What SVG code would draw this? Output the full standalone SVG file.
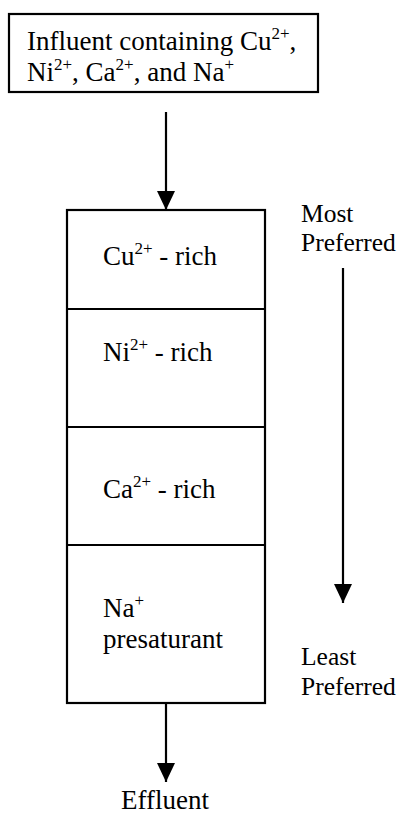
<svg xmlns="http://www.w3.org/2000/svg" width="399" height="816" viewBox="0 0 399 816">
<style>
  text { font-family: "Liberation Serif", "Times New Roman", serif; font-size: 27px; fill: #000; }
  .side { font-size: 25.5px; }
  .sup { font-size: 17px; }
  .box { fill: #fff; stroke: #000; stroke-width: 2.2; }
  .line { stroke: #000; stroke-width: 2.2; fill: none; }
</style>
<defs>
  <marker id="arr" viewBox="0 0 19 18" refX="19" refY="9" markerWidth="19" markerHeight="18" markerUnits="userSpaceOnUse" orient="auto">
    <path d="M0,0 L19,9 L0,18 Z" fill="#000"/>
  </marker>
</defs>
<rect width="399" height="816" fill="#fff"/>
<g id="influent">
  <rect class="box" x="9" y="14" width="309" height="78"/>
  <text x="27" y="50">Influent containing Cu<tspan class="sup" dy="-11">2+</tspan><tspan dy="11">,</tspan></text>
  <text x="27" y="81">Ni<tspan class="sup" dy="-11">2+</tspan><tspan dy="11">, Ca</tspan><tspan class="sup" dy="-11">2+</tspan><tspan dy="11">, and Na</tspan><tspan class="sup" dy="-11">+</tspan></text>
</g>
<g id="column">
  <rect class="box" x="67" y="210" width="198" height="493"/>
</g>
<g id="cu-zone">
  <line class="line" x1="67" y1="309" x2="265" y2="309"/>
  <text x="103" y="265">Cu<tspan class="sup" dy="-11">2+</tspan><tspan dy="11"> - rich</tspan></text>
</g>
<g id="ni-zone">
  <line class="line" x1="67" y1="427" x2="265" y2="427"/>
  <text x="103" y="361">Ni<tspan class="sup" dy="-11">2+</tspan><tspan dy="11"> - rich</tspan></text>
</g>
<g id="ca-zone">
  <line class="line" x1="67" y1="545" x2="265" y2="545"/>
  <text x="103" y="498">Ca<tspan class="sup" dy="-11">2+</tspan><tspan dy="11"> - rich</tspan></text>
</g>
<g id="na-zone">
  <text x="103" y="617">Na<tspan class="sup" dy="-11">+</tspan></text>
  <text x="103" y="648">presaturant</text>
</g>
<g id="effluent">
  <text x="165" y="809" text-anchor="middle">Effluent</text>
</g>
<g id="most">
  <text class="side" x="301" y="222">Most</text>
  <text class="side" x="301" y="251">Preferred</text>
</g>
<g id="least">
  <text class="side" x="301" y="665">Least</text>
  <text class="side" x="301" y="695">Preferred</text>
</g>
<g id="connectors">
  <line class="line" x1="166" y1="112" x2="166" y2="210" marker-end="url(#arr)"/>
  <line class="line" x1="166" y1="703" x2="166" y2="782" marker-end="url(#arr)"/>
  <line class="line" x1="343" y1="268" x2="343" y2="603" marker-end="url(#arr)"/>
</g>
</svg>
